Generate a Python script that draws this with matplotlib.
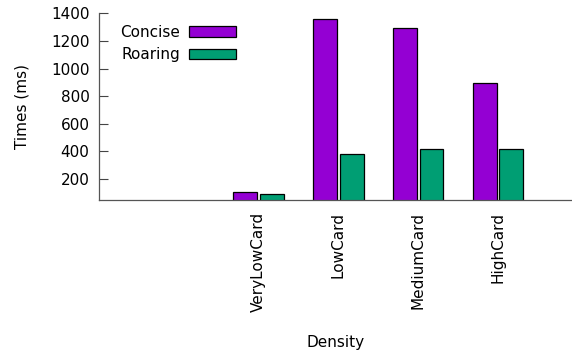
# Query times for Concise vs Roaring bitmaps across density classes.

import numpy as np
import matplotlib as mpl
import matplotlib.pyplot as plt

mpl.rcParams["font.family"] = "DejaVu Sans"

# Benchmark results (ms).
categories = ["VeryLowCard", "LowCard", "MediumCard", "HighCard"]
concise_ms = [104, 1357, 1294, 893]
roaring_ms = [89, 379, 417, 415]
yticks = [200, 400, 600, 800, 1000, 1200, 1400]

W, H = 572, 354
fs = 11
fig = plt.figure(figsize=(W / 100, H / 100), dpi=100)
ax = fig.add_axes([99.3 / W, 1 - 199.7 / H, 1 - 99.3 / W, (199.7 - 13.3) / H])

x = np.arange(len(categories))
width = 0.30
offset = 0.167
ax.bar(x - offset, concise_ms, width, bottom=0, color="#9400d3",
       edgecolor="black", linewidth=0.9, label="Concise")
ax.bar(x + offset, roaring_ms, width, bottom=0, color="#009e73",
       edgecolor="black", linewidth=0.9, label="Roaring")

ax.set_xlim(-2.0, 3.93)
ax.set_ylim(50, 1400)
ax.set_yticks(yticks)
ax.set_xticks(x)
ax.set_xticklabels(categories, rotation=90, fontsize=fs)
ax.tick_params(axis="x", length=0, pad=8.5)
ax.tick_params(axis="y", direction="in", length=6.5, width=0.8,
               pad=7, labelsize=fs, color="#444444")

for side in ["top", "right"]:
  ax.spines[side].set_visible(False)
for side in ["left", "bottom"]:
  ax.spines[side].set_color("#555555")
  ax.spines[side].set_linewidth(0.9)

fig.text(22 / W, 1 - 106.5 / H, "Times (ms)", rotation=90,
         ha="center", va="center", fontsize=fs)
fig.text(336 / W, 1 - 342 / H, "Density", ha="center", va="center",
         fontsize=fs)

ax.legend(loc="upper right", bbox_to_anchor=(236.5 / W, 1 - 25 / H),
          bbox_transform=fig.transFigure, frameon=False, markerfirst=False,
          fontsize=fs, handlelength=3.1, handletextpad=0.6,
          borderpad=0, borderaxespad=0, labelspacing=0.48)

fig.savefig("out.png", dpi=100)
